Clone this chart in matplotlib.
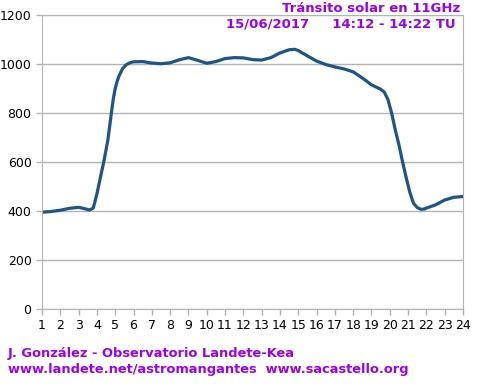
import matplotlib
matplotlib.use('Agg')
from matplotlib import pyplot as plt

# readings of the solar transit curve
pos = [1.0, 1.5, 2.0, 2.5, 3.0, 3.3, 3.6, 3.8, 3.9, 4.0, 4.2, 4.4, 4.6, 4.8, 4.9,
       5.0, 5.1, 5.2, 5.4, 5.6, 5.8, 6.0, 6.5, 7.0, 7.5, 8.0, 8.5, 9.0, 9.5, 10.0,
       10.5, 11.0, 11.5, 12.0, 12.5, 13.0, 13.5, 14.0, 14.5, 14.8, 15.0, 15.5,
       16.0, 16.5, 17.0, 17.5, 18.0, 18.5, 19.0, 19.5, 19.7, 19.9, 20.1, 20.3,
       20.5, 20.7, 20.9, 21.1, 21.3, 21.5, 21.7, 21.9, 22.0, 22.5, 23.0, 23.5, 24.0]
signal = [395, 398, 403, 411, 415, 410, 404, 412, 440, 470, 540, 610, 690, 805, 860,
          900, 928, 950, 981, 997, 1005, 1009, 1010, 1004, 1001, 1005, 1017, 1026, 1015, 1003,
          1010, 1022, 1026, 1025, 1018, 1016, 1026, 1045, 1058, 1060, 1055, 1033,
          1012, 998, 988, 980, 968, 943, 915, 897, 885, 855, 800, 731,
          670, 600, 535, 475, 431, 414, 407, 408, 412, 425, 445, 456, 459]

xticks = list(range(1, 25))
yticks = [0, 200, 400, 600, 800, 1000, 1200]

purple = '#9d00f0'
grid_c = '#b3b3b3'

fig = plt.figure(figsize=(4.81, 3.88), dpi=100)
ax = fig.add_axes([42 / 481, 79 / 388, 421 / 481, 294 / 388])

ax.plot(pos, signal, color='#1f5486', lw=2.3, solid_capstyle='round',
        solid_joinstyle='round')

ax.set_xlim(1, 24)
ax.set_ylim(0, 1200)
ax.set_xticks(xticks)
ax.set_yticks(yticks)
ax.yaxis.grid(True, color=grid_c, lw=1)
ax.set_axisbelow(True)
for s in ax.spines.values():
    s.set_color(grid_c)
ax.tick_params(colors=grid_c, labelcolor='black', labelsize=9, length=4, width=1)

fig.text(460 / 481, 1 - 9 / 388, 'Tránsito solar en 11GHz', color=purple,
         fontsize=9.5, fontweight='bold', ha='right', va='center')
fig.text(456 / 481, 1 - 24 / 388, '15/06/2017     14:12 - 14:22 TU', color=purple,
         fontsize=9.5, fontweight='bold', ha='right', va='center')
fig.text(8 / 481, 1 - 354 / 388, 'J. González - Observatorio Landete-Kea', color=purple,
         fontsize=9.4, fontweight='bold', ha='left', va='center')
fig.text(8 / 481, 1 - 369 / 388, 'www.landete.net/astromangantes  www.sacastello.org',
         color=purple, fontsize=9.4, fontweight='bold', ha='left', va='center')

fig.savefig('out.png', dpi=100)
plt.close(fig)
